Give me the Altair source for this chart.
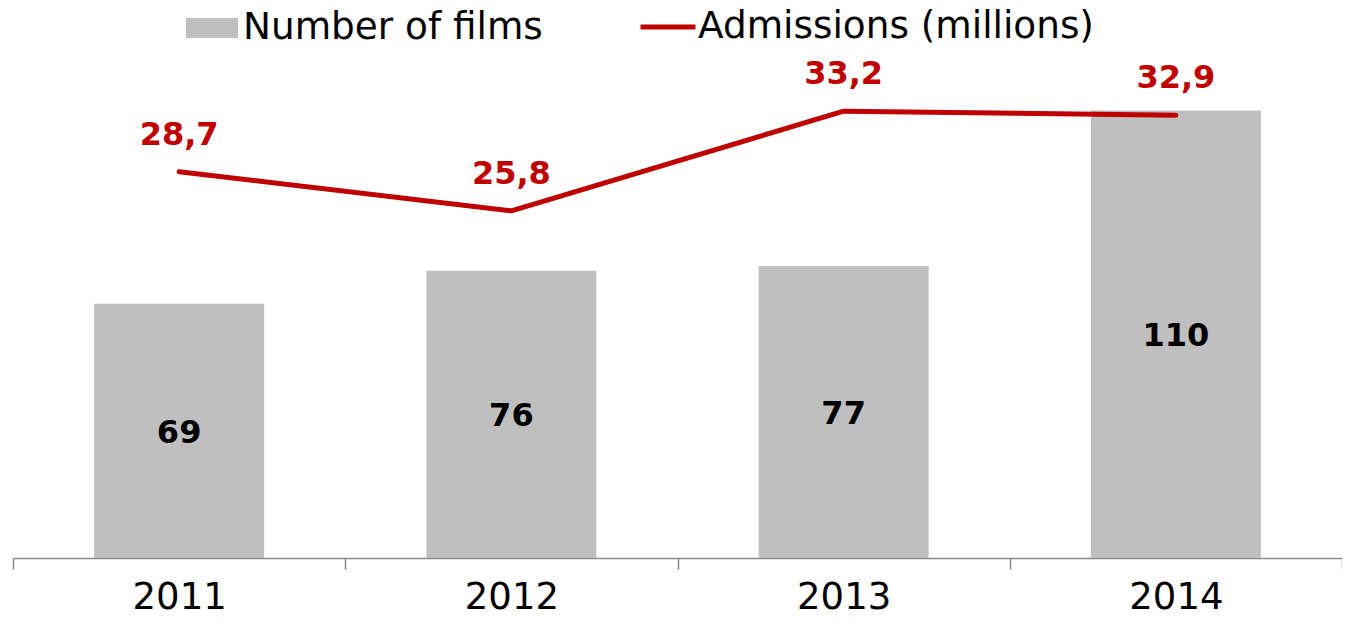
import altair as alt
import pandas as pd

years = ["2011", "2012", "2013", "2014"]
films = [69, 76, 77, 110]
admissions = [28.7, 25.8, 33.2, 32.9]
admission_labels = ["28,7", "25,8", "33,2", "32,9"]

BAR_MIN = 15
df = pd.DataFrame({
    "year": years,
    "films": films,
    "adm": admissions,
    "adm_label": admission_labels,
    "s_films": ["Number of films"] * 4,
    "s_adm": ["Admissions (millions)"] * 4,
})

FONT = "DejaVu Sans"
RED = "#C00000"
GRAY = "#BFBFBF"
AXIS_GRAY = "#898989"

x_enc = alt.X("year:N", scale=alt.Scale(type="band", paddingInner=0, paddingOuter=0),
              axis=alt.Axis(title=None, labelAngle=0, labelFont=FONT, labelFontSize=37,
                            labelColor="#000000", tickBand="extent", tickSize=11,
                            tickColor=AXIS_GRAY, domainColor=AXIS_GRAY, domainWidth=1.5,
                            tickWidth=1.5, labelPadding=10, grid=False))

bar_scale = alt.Scale(domain=[BAR_MIN, 115], zero=False, nice=False)

bars = alt.Chart(df).mark_bar(width=170).encode(
    x=x_enc,
    y=alt.Y("films:Q", scale=bar_scale, axis=None),
    y2=alt.datum(BAR_MIN),
    fill=alt.Fill("s_films:N", scale=alt.Scale(range=[GRAY]),
                  legend=alt.Legend(title=None, orient="none", legendX=173, legendY=-85,
                                    symbolType="M-1,-0.385H1V0.385H-1Z", symbolSize=2704,
                                    symbolStrokeWidth=0, labelFont=FONT,
                                    labelFontSize=37.4, labelColor="#000000", labelOffset=5,
                                    padding=0, labelLimit=600)),
)

bar_text = alt.Chart(df).transform_calculate(
    mid=f"(datum.films + {BAR_MIN}) / 2"
).mark_text(font=FONT, fontSize=32, fontWeight="bold", color="#000000", dy=2).encode(
    x=alt.X("year:N"),
    y=alt.Y("mid:Q", scale=bar_scale, axis=None),
    text="films:Q",
)

line_y = alt.Y("adm:Q", scale=alt.Scale(domain=[0, 35], nice=False), axis=None)

line = alt.Chart(df).mark_line(strokeWidth=5, strokeCap="round", strokeJoin="round").encode(
    x=alt.X("year:N"),
    y=line_y,
    stroke=alt.Stroke("s_adm:N", scale=alt.Scale(range=[RED]),
                      legend=alt.Legend(title=None, orient="none", legendX=625, legendY=-90,
                                        symbolType="stroke", symbolSize=3025,
                                        symbolStrokeWidth=5, labelFont=FONT,
                                        labelFontSize=37.4, labelColor="#000000", labelOffset=0,
                                        padding=0, labelLimit=600)),
)

line_text = alt.Chart(df).mark_text(font=FONT, fontSize=32, fontWeight="bold", color=RED,
                                    dy=-37).encode(
    x=alt.X("year:N"),
    y=line_y,
    text="adm_label:N",
)

chart = alt.layer(
    alt.layer(bars, bar_text),
    alt.layer(line, line_text),
).resolve_scale(y="independent", fill="independent", stroke="independent").properties(
    width=1329, height=471,
    autosize=alt.AutoSizeParams(type="none"),
    padding={"left": 5, "top": 79, "right": 0, "bottom": 58},
).configure_view(stroke=None)

chart.save("out.html", embed_options={"renderer": "svg", "actions": False})
